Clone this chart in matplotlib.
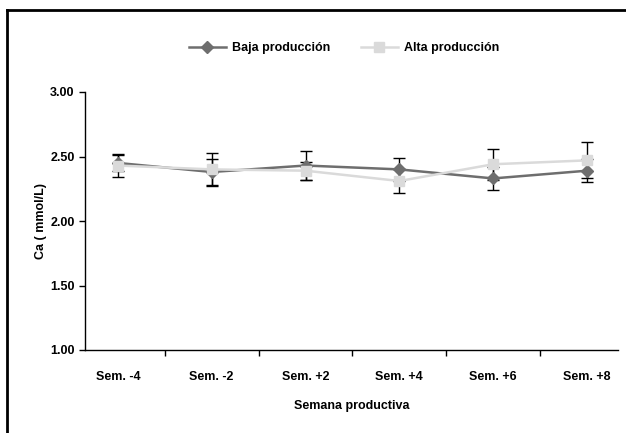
import matplotlib
matplotlib.use("Agg")
import matplotlib.pyplot as plt
from matplotlib.lines import Line2D
import numpy as np

categories = ["Sem. -4", "Sem. -2", "Sem. +2", "Sem. +4", "Sem. +6", "Sem. +8"]
baja = [2.45, 2.38, 2.43, 2.40, 2.33, 2.39]
baja_err = [0.06, 0.10, 0.11, 0.09, 0.09, 0.09]
alta = [2.43, 2.40, 2.39, 2.31, 2.44, 2.47]
alta_err = [0.09, 0.13, 0.07, 0.09, 0.12, 0.14]
yticks = [1.00, 1.50, 2.00, 2.50, 3.00]

plt.rcParams['font.family'] = ['Liberation Sans', 'DejaVu Sans']
plt.rcParams['font.weight'] = 'bold'

W, H = 626, 433
fig = plt.figure(figsize=(W/100, H/100), dpi=100)
ax = fig.add_axes([85/W, 1-350/H, (618-85)/W, (350-92)/H])

x = np.arange(len(categories))
ax.errorbar(x, alta, yerr=alta_err, fmt='none', ecolor='black', elinewidth=1, capsize=4.5, capthick=1, zorder=2)
ax.errorbar(x, baja, yerr=baja_err, fmt='none', ecolor='black', elinewidth=1, capsize=4.5, capthick=1, zorder=2)
ax.plot(x, baja, color='#6e6e6e', lw=1.8, marker='D', ms=6, mfc='#6e6e6e', mec='#6e6e6e', label='Baja producción', zorder=3)
ax.plot(x, alta, color='#dadada', lw=1.8, marker='s', ms=7, mfc='#dadada', mec='#dadada', label='Alta producción', zorder=4)

ax.set_xlim(-0.35, len(categories) - 1 + 0.33)
ax.set_ylim(1.0, 3.0)
ax.set_yticks(yticks)
ax.set_yticklabels([f"{v:.2f}" for v in yticks])
ax.set_xticks(x)
ax.set_xticklabels(categories)
ax.set_xticks(np.arange(-0.5, len(categories) - 1, 1.0)[1:], minor=True)
ax.tick_params(axis='x', which='major', length=0, labelsize=9, pad=15)
ax.tick_params(axis='x', which='minor', length=4, direction='out', width=1)
ax.tick_params(axis='y', which='major', length=4, direction='out', width=1, labelsize=9)
for s in ['top', 'right']:
    ax.spines[s].set_visible(False)
for s in ['left', 'bottom']:
    ax.spines[s].set_linewidth(1)
    ax.spines[s].set_color('black')

ax.set_ylabel("Ca ( mmol/L)", fontsize=9, fontweight='bold', labelpad=2)
ax.set_xlabel("Semana productiva", fontsize=9, fontweight='bold', labelpad=12)

leg = ax.legend(loc='center', bbox_to_anchor=(344/W, 1-48/H), bbox_transform=fig.transFigure,
                ncol=2, frameon=False, fontsize=9, handlelength=3, columnspacing=2.4, handletextpad=0.5)

fig.add_artist(Line2D([7/W, 1], [1-10/H, 1-10/H], transform=fig.transFigure, color='black', lw=2))
fig.add_artist(Line2D([7/W, 7/W], [0, 1-10/H], transform=fig.transFigure, color='black', lw=2))

fig.savefig("out.png", dpi=100)
